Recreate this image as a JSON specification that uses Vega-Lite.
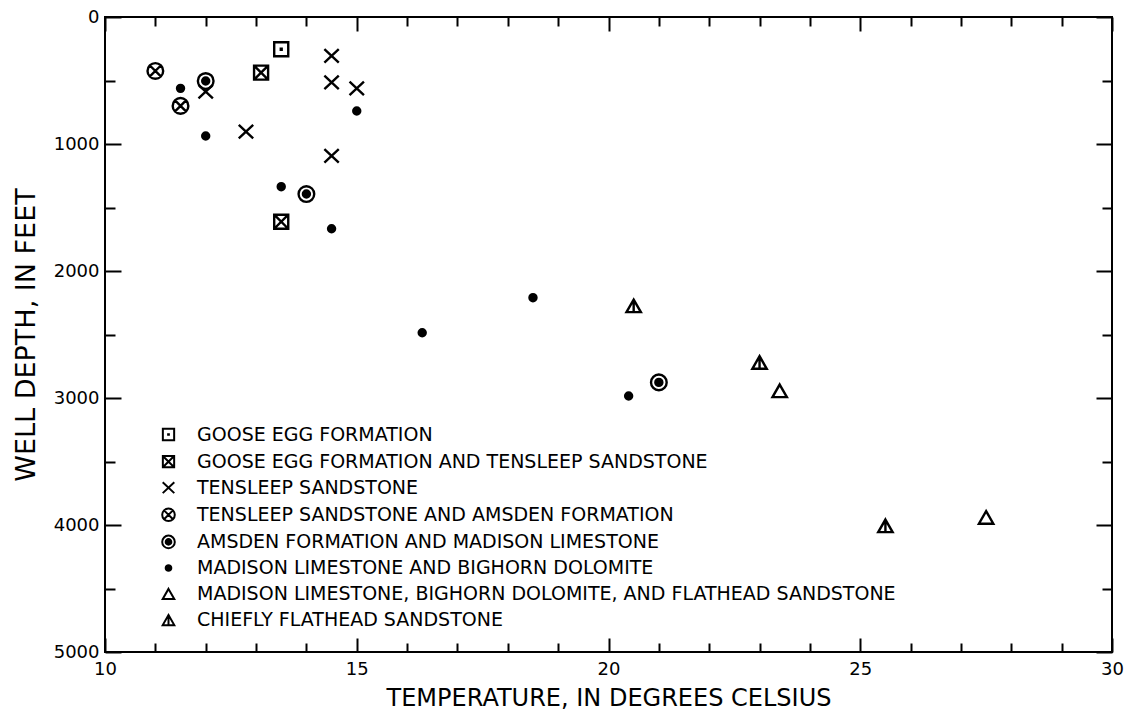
{
  "$schema": "https://vega.github.io/schema/vega-lite/v6.json",
  "width": 1007,
  "height": 635,
  "autosize": "none",
  "padding": {"left": 105, "top": 17, "right": 17, "bottom": 61},
  "background": "white",
  "data": {
    "values": [
      {"temp": 13.5, "depth": 254, "unit": "GOOSE EGG FORMATION"},
      {"temp": 13.1, "depth": 438, "unit": "GOOSE EGG FORMATION AND TENSLEEP SANDSTONE"},
      {"temp": 13.5, "depth": 1612, "unit": "GOOSE EGG FORMATION AND TENSLEEP SANDSTONE"},
      {"temp": 12.0, "depth": 588, "unit": "TENSLEEP SANDSTONE"},
      {"temp": 12.8, "depth": 903, "unit": "TENSLEEP SANDSTONE"},
      {"temp": 14.5, "depth": 307, "unit": "TENSLEEP SANDSTONE"},
      {"temp": 14.5, "depth": 514, "unit": "TENSLEEP SANDSTONE"},
      {"temp": 15.0, "depth": 562, "unit": "TENSLEEP SANDSTONE"},
      {"temp": 14.5, "depth": 1094, "unit": "TENSLEEP SANDSTONE"},
      {"temp": 11.0, "depth": 425, "unit": "TENSLEEP SANDSTONE AND AMSDEN FORMATION"},
      {"temp": 11.5, "depth": 700, "unit": "TENSLEEP SANDSTONE AND AMSDEN FORMATION"},
      {"temp": 12.0, "depth": 504, "unit": "AMSDEN FORMATION AND MADISON LIMESTONE"},
      {"temp": 14.0, "depth": 1394, "unit": "AMSDEN FORMATION AND MADISON LIMESTONE"},
      {"temp": 21.0, "depth": 2877, "unit": "AMSDEN FORMATION AND MADISON LIMESTONE"},
      {"temp": 11.5, "depth": 562, "unit": "MADISON LIMESTONE AND BIGHORN DOLOMITE"},
      {"temp": 12.0, "depth": 937, "unit": "MADISON LIMESTONE AND BIGHORN DOLOMITE"},
      {"temp": 15.0, "depth": 740, "unit": "MADISON LIMESTONE AND BIGHORN DOLOMITE"},
      {"temp": 13.5, "depth": 1336, "unit": "MADISON LIMESTONE AND BIGHORN DOLOMITE"},
      {"temp": 14.5, "depth": 1667, "unit": "MADISON LIMESTONE AND BIGHORN DOLOMITE"},
      {"temp": 16.3, "depth": 2486, "unit": "MADISON LIMESTONE AND BIGHORN DOLOMITE"},
      {"temp": 18.5, "depth": 2210, "unit": "MADISON LIMESTONE AND BIGHORN DOLOMITE"},
      {"temp": 20.4, "depth": 2984, "unit": "MADISON LIMESTONE AND BIGHORN DOLOMITE"},
      {"temp": 23.4, "depth": 2945, "unit": "MADISON LIMESTONE, BIGHORN DOLOMITE, AND FLATHEAD SANDSTONE"},
      {"temp": 27.5, "depth": 3942, "unit": "MADISON LIMESTONE, BIGHORN DOLOMITE, AND FLATHEAD SANDSTONE"},
      {"temp": 20.5, "depth": 2276, "unit": "CHIEFLY FLATHEAD SANDSTONE"},
      {"temp": 23.0, "depth": 2722, "unit": "CHIEFLY FLATHEAD SANDSTONE"},
      {"temp": 25.5, "depth": 4008, "unit": "CHIEFLY FLATHEAD SANDSTONE"}
    ]
  },
  "layer": [
    {
      "mark": {"type": "point", "filled": false, "stroke": "black", "strokeWidth": 2.4, "size": 324, "opacity": 1},
      "encoding": {
        "x": {
          "field": "temp", "type": "quantitative",
          "scale": {"domain": [10, 30], "nice": false, "zero": false},
          "axis": {
            "orient": "bottom",
            "title": "TEMPERATURE, IN DEGREES CELSIUS",
            "values": [10,11,12,13,14,15,16,17,18,19,20,21,22,23,24,25,26,27,28,29,30],
            "format": "d",
            "labelExpr": "datum.value % 5 === 0 ? datum.label : ''",
            "labelFlush": false,
            "labelOverlap": false,
            "tickSize": {"condition": {"test": "datum.value % 5 === 0", "value": -14}, "value": -9},
            "labelPadding": 22,
            "titlePadding": 3
          }
        },
        "y": {
          "field": "depth", "type": "quantitative",
          "scale": {"domain": [0, 5000], "nice": false, "zero": false, "reverse": true},
          "axis": {
            "orient": "left",
            "title": "WELL DEPTH, IN FEET",
            "values": [0,500,1000,1500,2000,2500,3000,3500,4000,4500,5000],
            "format": "d",
            "labelExpr": "datum.value % 1000 === 0 ? datum.label : ''",
            "labelOverlap": false,
            "labelFlush": false,
            "tickSize": {"condition": {"test": "datum.value % 1000 === 0", "value": -16}, "value": -10},
            "labelPadding": 22,
            "titlePadding": 13
          }
        },
        "shape": {
          "field": "unit", "type": "nominal",
          "scale": {
            "domain": [
              "GOOSE EGG FORMATION",
              "GOOSE EGG FORMATION AND TENSLEEP SANDSTONE",
              "TENSLEEP SANDSTONE",
              "TENSLEEP SANDSTONE AND AMSDEN FORMATION",
              "AMSDEN FORMATION AND MADISON LIMESTONE",
              "MADISON LIMESTONE AND BIGHORN DOLOMITE",
              "MADISON LIMESTONE, BIGHORN DOLOMITE, AND FLATHEAD SANDSTONE",
              "CHIEFLY FLATHEAD SANDSTONE"
            ],
            "range": [
              "M-0.78,-0.78L0.78,-0.78L0.78,0.78L-0.78,0.78ZM-0.05,-0.05L0.05,-0.05L0.05,0.05L-0.05,0.05Z",
              "M-0.78,-0.78L0.78,-0.78L0.78,0.78L-0.78,0.78ZM-0.78,-0.78L0.78,0.78M0.78,-0.78L-0.78,0.78",
              "M-0.8,-0.75L0.8,0.75M0.8,-0.75L-0.8,0.75",
              "M0.87,0C0.87,0.4805,0.4805,0.87,0,0.87C-0.4805,0.87,-0.87,0.4805,-0.87,0C-0.87,-0.4805,-0.4805,-0.87,0,-0.87C0.4805,-0.87,0.87,-0.4805,0.87,0ZM-0.58,-0.58L0.58,0.58M0.58,-0.58L-0.58,0.58",
              "M0.87,0C0.87,0.4805,0.4805,0.87,0,0.87C-0.4805,0.87,-0.87,0.4805,-0.87,0C-0.87,-0.4805,-0.4805,-0.87,0,-0.87C0.4805,-0.87,0.87,-0.4805,0.87,0ZM0.39,0C0.39,0.2154,0.2154,0.39,0,0.39C-0.2154,0.39,-0.39,0.2154,-0.39,0C-0.39,-0.2154,-0.2154,-0.39,0,-0.39C0.2154,-0.39,0.39,-0.2154,0.39,0ZM0.22,0C0.22,0.1215,0.1215,0.22,0,0.22C-0.1215,0.22,-0.22,0.1215,-0.22,0C-0.22,-0.1215,-0.1215,-0.22,0,-0.22C0.1215,-0.22,0.22,-0.1215,0.22,0ZM-0.05,-0.05L0.05,-0.05L0.05,0.05L-0.05,0.05Z",
              "M0.39,0C0.39,0.2154,0.2154,0.39,0,0.39C-0.2154,0.39,-0.39,0.2154,-0.39,0C-0.39,-0.2154,-0.2154,-0.39,0,-0.39C0.2154,-0.39,0.39,-0.2154,0.39,0ZM0.22,0C0.22,0.1215,0.1215,0.22,0,0.22C-0.1215,0.22,-0.22,0.1215,-0.22,0C-0.22,-0.1215,-0.1215,-0.22,0,-0.22C0.1215,-0.22,0.22,-0.1215,0.22,0ZM-0.05,-0.05L0.05,-0.05L0.05,0.05L-0.05,0.05Z",
              "M0,-0.72L0.8,0.68L-0.8,0.68Z",
              "M0,-0.72L0.8,0.68L-0.8,0.68ZM0,-0.72L0,0.68"
            ]
          },
          "legend": {
            "title": null,
            "orient": "none",
            "legendX": 54,
            "legendY": 408,
            "symbolSize": 210,
            "symbolStrokeWidth": 2,
            "symbolStrokeColor": "black",
            "symbolFillColor": "transparent",
            "symbolOpacity": 1,
            "labelFont": "DejaVu Sans",
            "labelFontSize": 19,
            "labelColor": "black",
            "labelLimit": 0,
            "labelOffset": 19,
            "rowPadding": 6.1
          }
        }
      }
    },
    {
      "mark": {"type": "point", "opacity": 0},
      "encoding": {
        "x": {
          "field": "temp", "type": "quantitative",
          "axis": {
            "orient": "top",
            "title": null,
            "labels": false,
            "values": [10,11,12,13,14,15,16,17,18,19,20,21,22,23,24,25,26,27,28,29,30],
            "tickSize": {"condition": {"test": "datum.value % 5 === 0", "value": -14}, "value": -9}
          }
        },
        "y": {
          "field": "depth", "type": "quantitative",
          "axis": {
            "orient": "right",
            "title": null,
            "labels": false,
            "values": [0,500,1000,1500,2000,2500,3000,3500,4000,4500,5000],
            "tickSize": {"condition": {"test": "datum.value % 1000 === 0", "value": -16}, "value": -10}
          }
        }
      }
    }
  ],
  "config": {
    "view": {"stroke": "black", "strokeWidth": 2},
    "axis": {
      "domain": false,
      "grid": false,
      "tickColor": "black",
      "tickWidth": 2,
      "labelFont": "DejaVu Sans",
      "labelFontSize": 18,
      "labelColor": "black",
      "titleFont": "DejaVu Sans",
      "titleFontWeight": "normal",
      "titleColor": "black"
    },
    "axisX": {"titleFontSize": 24},
    "axisY": {"titleFontSize": 27}
  }
}
